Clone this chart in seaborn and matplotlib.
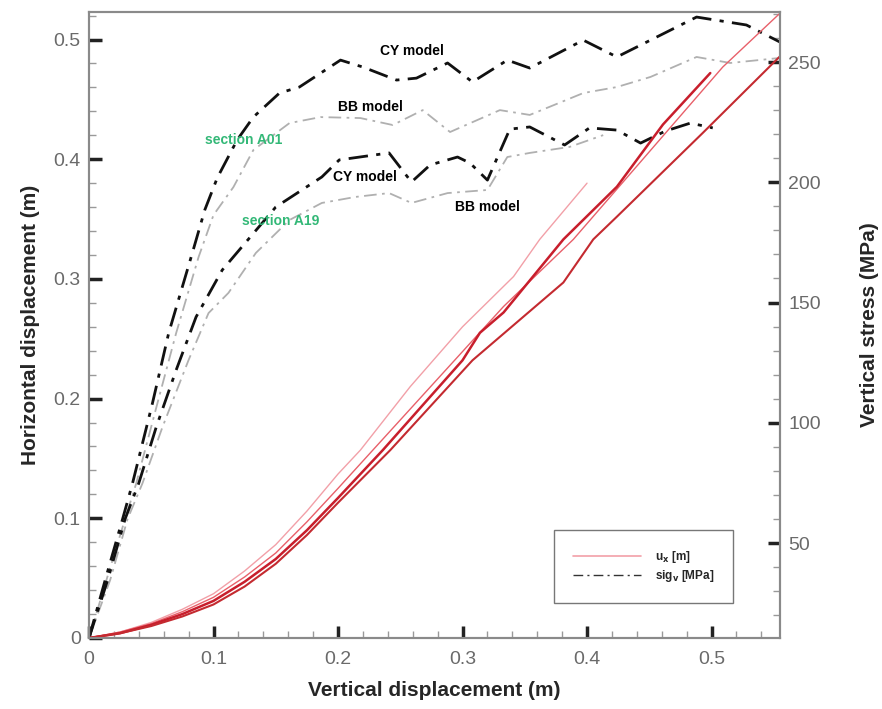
import matplotlib
matplotlib.use("Agg")
import matplotlib.pyplot as plt
from matplotlib.lines import Line2D
from matplotlib.ticker import MultipleLocator, FuncFormatter
import seaborn as sns
import pandas as pd

# ---------------- data ----------------
# Vertical stress (MPa) vs vertical displacement (m), right axis
cy_a01_x = [0, 0.013, 0.027, 0.035, 0.051, 0.064, 0.083, 0.093, 0.103, 0.119, 0.132, 0.153, 0.169,
            0.202, 0.220, 0.247, 0.263, 0.288, 0.308, 0.336, 0.354, 0.397, 0.424, 0.488, 0.528, 0.555]
cy_a01_s = [10.5, 34.6, 60.0, 74.9, 108.2, 137.3, 170.6, 188.5, 201.8, 217.6, 227.1, 237.1, 239.6,
            250.8, 247.9, 242.5, 243.3, 249.6, 241.7, 250.8, 247.5, 259.1, 252.1, 268.7, 265.4, 258.3]

bb_a01_x = [0, 0.014, 0.029, 0.038, 0.055, 0.070, 0.088, 0.100, 0.116, 0.132, 0.161, 0.186, 0.218,
            0.244, 0.268, 0.290, 0.330, 0.354, 0.397, 0.424, 0.451, 0.488, 0.515, 0.555]
bb_a01_s = [10.5, 34.6, 60.0, 74.9, 108.2, 137.3, 168.9, 186.4, 198.0, 213.4, 224.6, 227.1, 226.7,
            223.8, 230.0, 220.9, 230.0, 228.0, 237.1, 239.6, 243.8, 252.1, 249.6, 251.7]

cy_a19_x = [0, 0.015, 0.029, 0.040, 0.054, 0.070, 0.086, 0.107, 0.150, 0.187, 0.201, 0.241, 0.259,
            0.274, 0.296, 0.306, 0.320, 0.338, 0.354, 0.382, 0.402, 0.424, 0.443, 0.463, 0.483, 0.501]
cy_a19_s = [10.5, 34.6, 60.0, 74.9, 98.2, 121.9, 144.0, 163.5, 189.7, 202.2, 209.3, 212.2, 200.1,
            207.2, 210.5, 208.0, 200.9, 222.1, 223.0, 215.5, 222.6, 221.7, 216.3, 221.3, 224.6, 222.6]

bb_a19_x = [0, 0.017, 0.031, 0.043, 0.059, 0.080, 0.096, 0.112, 0.134, 0.161, 0.187, 0.214, 0.241,
            0.259, 0.288, 0.320, 0.336, 0.354, 0.386, 0.413]
bb_a19_s = [10.5, 34.6, 60.0, 74.9, 98.2, 126.1, 145.6, 154.0, 170.6, 184.3, 191.4, 193.9, 195.5,
            191.4, 195.5, 196.8, 210.5, 212.2, 214.7, 219.6]

# Horizontal displacement (m) vs vertical displacement (m), left axis
ux1_x = [0, 0.025, 0.05, 0.075, 0.10, 0.125, 0.15, 0.175, 0.20, 0.218, 0.258, 0.300, 0.341, 0.362, 0.400]
ux1_y = [0, 0.005, 0.013, 0.024, 0.037, 0.056, 0.078, 0.106, 0.137, 0.157, 0.210, 0.260, 0.302, 0.333, 0.380]

ux2_x = [0, 0.025, 0.05, 0.075, 0.10, 0.125, 0.15, 0.175, 0.20, 0.228, 0.333, 0.389, 0.509, 0.555]
ux2_y = [0, 0.005, 0.012, 0.022, 0.034, 0.051, 0.071, 0.097, 0.125, 0.157, 0.277, 0.333, 0.477, 0.522]

ux3_x = [0, 0.025, 0.05, 0.075, 0.10, 0.125, 0.15, 0.175, 0.20, 0.236, 0.300, 0.314, 0.333, 0.381,
         0.424, 0.461, 0.499]
ux3_y = [0, 0.004, 0.011, 0.020, 0.031, 0.047, 0.066, 0.090, 0.117, 0.157, 0.232, 0.255, 0.272, 0.333,
         0.377, 0.429, 0.472]

ux4_x = [0, 0.025, 0.05, 0.075, 0.10, 0.125, 0.15, 0.175, 0.20, 0.242, 0.308, 0.381, 0.405, 0.424,
         0.493, 0.555]
ux4_y = [0, 0.004, 0.010, 0.018, 0.028, 0.043, 0.062, 0.086, 0.113, 0.157, 0.232, 0.297, 0.333, 0.352,
         0.422, 0.486]

x_ticks = [0, 0.1, 0.2, 0.3, 0.4, 0.5]
left_ticks = [0, 0.1, 0.2, 0.3, 0.4, 0.5]
right_ticks = [50, 100, 150, 200, 250]

labels = [
    ("CY model", 0.259, 0.490, "black"),
    ("BB model", 0.226, 0.444, "black"),
    ("section A01", 0.124, 0.416, "#33b877"),
    ("CY model", 0.222, 0.385, "black"),
    ("section A19", 0.154, 0.348, "#33b877"),
    ("BB model", 0.320, 0.360, "black"),
]

# ---------------- style ----------------
sns.set_style("white")
plt.rcParams["font.family"] = ["Liberation Sans", "DejaVu Sans"]

fig = plt.figure(figsize=(8.82, 7.09), dpi=100)
ax = fig.add_axes([89 / 882, 71 / 709, 691 / 882, 626 / 709])
ax2 = ax.twinx()

dashdot = (0, (7, 3, 1.5, 3))

def line(axis, xs, ys, **kw):
    sns.lineplot(x=xs, y=ys, ax=axis, estimator=None, sort=False, **kw)

# stress curves (right axis)
line(ax2, bb_a01_x, bb_a01_s, color="#b0b0b0", lw=1.3, linestyle=dashdot)
line(ax2, bb_a19_x, bb_a19_s, color="#b0b0b0", lw=1.3, linestyle=dashdot)
line(ax2, cy_a01_x, cy_a01_s, color="#111111", lw=2.0, linestyle=dashdot)
line(ax2, cy_a19_x, cy_a19_s, color="#111111", lw=2.0, linestyle=dashdot)

# displacement curves (left axis)
line(ax, ux1_x, ux1_y, color="#f2a0a8", lw=1.0)
line(ax, ux2_x, ux2_y, color="#e8606a", lw=1.0)
line(ax, ux3_x, ux3_y, color="#c81e2c", lw=1.8)
line(ax, ux4_x, ux4_y, color="#c42a30", lw=1.5)

ax.set_zorder(ax2.get_zorder() + 1)
ax.patch.set_visible(False)

ax.set_xlim(0, 0.555)
ax.set_ylim(0, 0.523)
ax2.set_ylim(10.5, 270.8)

fmt = FuncFormatter(lambda v, p: "0" if abs(v) < 1e-9 else f"{v:g}")
ax.set_xticks(x_ticks)
ax.set_yticks(left_ticks)
ax.xaxis.set_major_formatter(fmt)
ax.yaxis.set_major_formatter(fmt)
ax.xaxis.set_minor_locator(MultipleLocator(0.02))
ax.yaxis.set_minor_locator(MultipleLocator(0.02))
ax2.set_yticks(right_ticks)
ax2.yaxis.set_minor_locator(MultipleLocator(10))

tick_col = "#6a6a6a"
for a in (ax, ax2):
    a.tick_params(which="major", direction="in", length=9, width=2.5, color="#222222",
                  labelsize=14, labelcolor=tick_col, pad=6)
    a.tick_params(which="minor", direction="in", length=5, width=1, color="#999999")
ax.tick_params(axis="x", which="major", pad=9)
ax.tick_params(axis="y", which="both", left=True, right=False)
ax.tick_params(axis="x", which="both", bottom=True, top=False)
ax2.tick_params(axis="y", which="both", right=True, left=False)

for a in (ax, ax2):
    for s in a.spines.values():
        s.set_color("#8a8a8a")
        s.set_linewidth(1.5)

ax.set_xlabel("Vertical displacement (m)", fontsize=15, fontweight="bold", labelpad=10)
ax.set_ylabel("Horizontal displacement (m)", fontsize=15, fontweight="bold", labelpad=10)
ax2.set_ylabel("Vertical stress (MPa)", fontsize=15, fontweight="bold", labelpad=28)

for txt, lx, ly, c in labels:
    ax.text(lx, ly, txt, color=c, fontsize=10, fontweight="bold", ha="center", va="center")

handles = [
    Line2D([], [], color="#f2a0a8", lw=1.2),
    Line2D([], [], color="#333333", lw=1.0, linestyle=dashdot),
]
leg = ax.legend(handles, [r"u$_\mathbf{x}$ [m]", r"sig$_\mathbf{v}$ [MPa]"],
                loc="center", bbox_to_anchor=(0.8025, 0.114), frameon=True, fancybox=False,
                prop={"weight": "bold", "size": 8.5}, handlelength=5.8, handletextpad=1.2,
                borderpad=1.6, labelspacing=0.3, borderaxespad=0)
leg.get_frame().set_edgecolor("#555555")
leg.get_frame().set_linewidth(1.0)

fig.savefig("out.png", dpi=100)
